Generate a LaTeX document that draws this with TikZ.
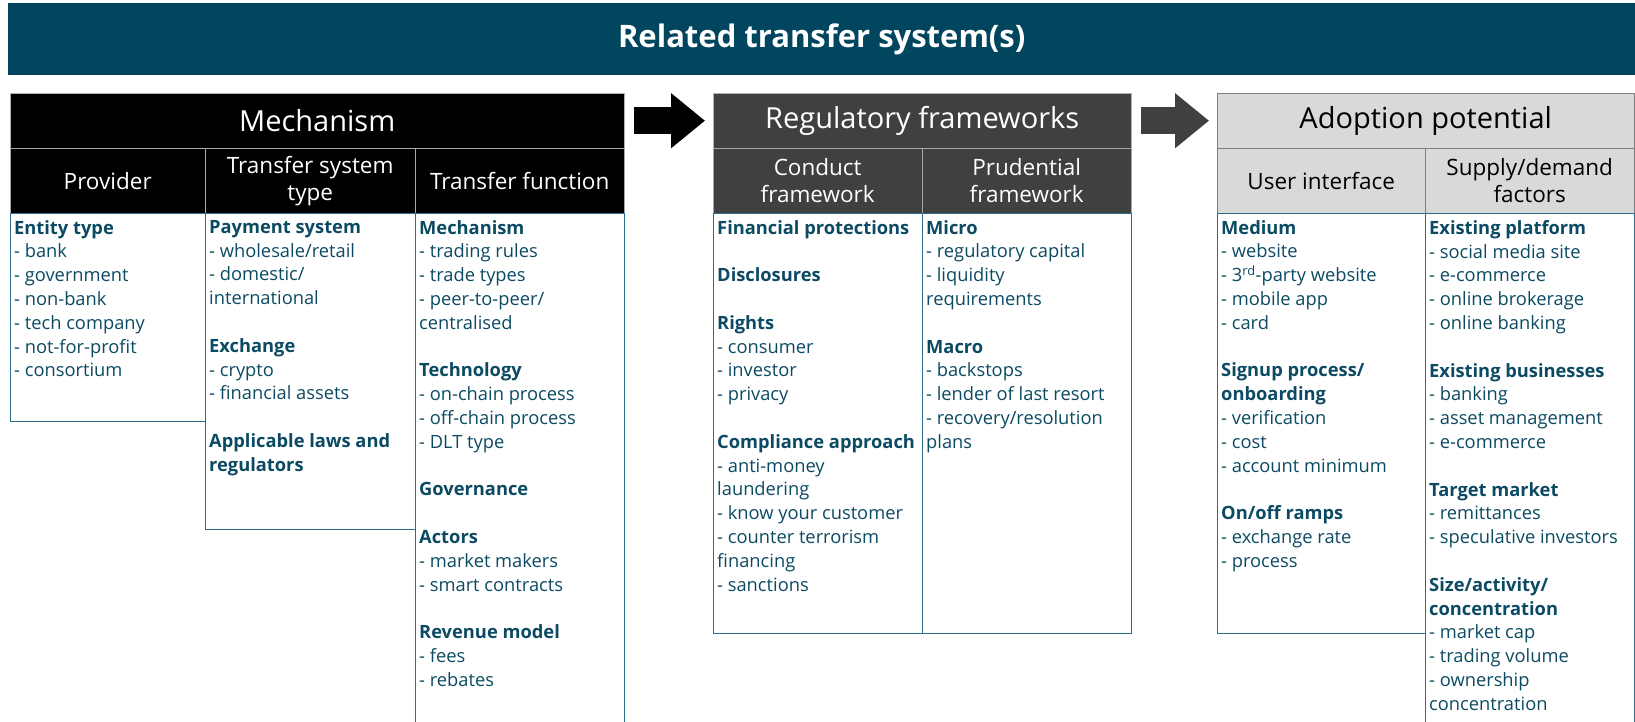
\documentclass[tikz,border=0pt]{standalone}
\usepackage{fontspec}
\setmainfont{Open Sans}
\usetikzlibrary{arrows.meta,positioning}
\definecolor{titlebg}{HTML}{02455E}
\definecolor{txt}{HTML}{0B4A62}
\definecolor{cborder}{HTML}{2A6E8C}
\definecolor{reggray}{HTML}{404040}
\definecolor{adgray}{HTML}{D9D9D9}
\newcommand{\hd}[1]{{\bfseries #1}}
\newcommand{\skipline}{\\[23.8pt]}

\begin{document}
\begin{tikzpicture}[x=1pt,y=-1pt,% pixel grid, y runs down
	every node/.style={align=center, inner sep=0pt},
	headbox/.style={rectangle, minimum height=55pt, anchor=north west,
		text=white, font=\fontsize{29}{33}\selectfont},
	subbox/.style={rectangle, minimum height=65pt, anchor=north west,
		text=white, font=\fontsize{22.5}{27}\selectfont},
	cbox/.style={rectangle, draw=cborder, line width=1.2pt, anchor=north west},
	ctext/.style={align=left, anchor=north west, text=txt,
		font=\fontsize{18.3}{23.8}\selectfont},
	blockarrow/.style={line width=27pt, -{Triangle[length=34pt,width=53pt]},
		shorten <=10pt, shorten >=8pt}
	]
	\useasboundingbox (0,0) rectangle (1635,721);
	\clip (0,0) rectangle (1635,721);

	\node[rectangle, fill=titlebg, anchor=north west, minimum width=1627pt, minimum height=72pt,
		text=white, font=\fontsize{31}{36}\selectfont\bfseries] (title) at (8,3) {Related transfer system(s)};

	% Mechanism
	\node[headbox, fill=black, draw=gray!60, minimum width=614pt] (mech) at (10,93) {Mechanism};
	\node[subbox, fill=black, draw=gray!70, minimum width=195pt] (prov) at (10,148) {Provider};
	\node[subbox, fill=black, draw=gray!70, minimum width=210pt] (tst) at (205,148) {Transfer system\\type};
	\node[subbox, fill=black, draw=gray!70, minimum width=209pt] (tfun) at (415,148) {Transfer function};

	% Regulatory frameworks
	\node[headbox, fill=reggray, draw=gray!60, minimum width=418pt] (reg) at (713,93) {Regulatory frameworks};
	\node[subbox, fill=reggray, draw=gray!70, minimum width=209pt] (cond) at (713,148) {Conduct\\framework};
	\node[subbox, fill=reggray, draw=gray!70, minimum width=209pt] (prud) at (922,148) {Prudential\\framework};

	% Adoption potential
	\node[headbox, fill=adgray, draw=gray, minimum width=417pt, text=black] (adopt) at (1217,93) {Adoption potential};
	\node[subbox, fill=adgray, draw=gray, minimum width=208pt, text=black] (ui) at (1217,148) {User interface};
	\node[subbox, fill=adgray, draw=gray, minimum width=209pt, text=black] (sd) at (1425,148) {Supply/demand\\factors};

	\draw[blockarrow, black] (mech.east) -- (reg.west);
	\draw[blockarrow, reggray] (reg.east) -- (adopt.west);

	% content boxes
	\node[cbox, minimum width=195pt, minimum height=208pt] (provbox) at (10,213) {};
	\node[cbox, minimum width=210pt, minimum height=316pt] (tstbox) at (205,213) {};
	\node[cbox, minimum width=209pt, minimum height=540pt] (tfunbox) at (415,213) {};
	\node[cbox, minimum width=209pt, minimum height=420pt] (condbox) at (713,213) {};
	\node[cbox, minimum width=209pt, minimum height=420pt] (prudbox) at (922,213) {};
	\node[cbox, minimum width=208pt, minimum height=420pt] (uibox) at (1217,213) {};
	\node[cbox, minimum width=209pt, minimum height=540pt] (sdbox) at (1425,213) {};

	\node[ctext, below right=7pt and 4pt of provbox.north west] (provtxt)
		{\hd{Entity type}\\- bank\\- government\\- non-bank\\- tech company\\- not-for-profit\\- consortium};
	\node[ctext, below right=7pt and 4pt of tstbox.north west] (tsttxt)
		{\hd{Payment system}\\- wholesale/retail\\- domestic/\\international\skipline
		\hd{Exchange}\\- crypto\\- financial assets\skipline
		\hd{Applicable laws and}\\\hd{regulators}};
	\node[ctext, below right=7pt and 4pt of tfunbox.north west] (tfuntxt)
		{\hd{Mechanism}\\- trading rules\\- trade types\\- peer-to-peer/\\centralised\skipline
		\hd{Technology}\\- on-chain process\\- off-chain process\\- DLT type\skipline
		\hd{Governance}\skipline
		\hd{Actors}\\- market makers\\- smart contracts\skipline
		\hd{Revenue model}\\- fees\\- rebates};
	\node[ctext, below right=7pt and 4pt of condbox.north west] (condtxt)
		{\hd{Financial protections}\skipline
		\hd{Disclosures}\skipline
		\hd{Rights}\\- consumer\\- investor\\- privacy\skipline
		\hd{Compliance approach}\\- anti-money\\laundering\\- know your customer\\- counter terrorism\\financing\\- sanctions};
	\node[ctext, below right=7pt and 4pt of prudbox.north west] (prudtxt)
		{\hd{Micro}\\- regulatory capital\\- liquidity\\requirements\skipline
		\hd{Macro}\\- backstops\\- lender of last resort\\- recovery/resolution\\plans};
	\node[ctext, below right=7pt and 4pt of uibox.north west] (uitxt)
		{\hd{Medium}\\- website\\- 3\textsuperscript{rd}-party website\\- mobile app\\- card\skipline
		\hd{Signup process/}\\\hd{onboarding}\\- verification\\- cost\\- account minimum\skipline
		\hd{On/off ramps}\\- exchange rate\\- process};
	\node[ctext, below right=7pt and 4pt of sdbox.north west] (sdtxt)
		{\hd{Existing platform}\\- social media site\\- e-commerce\\- online brokerage\\- online banking\skipline
		\hd{Existing businesses}\\- banking\\- asset management\\- e-commerce\skipline
		\hd{Target market}\\- remittances\\- speculative investors\skipline
		\hd{Size/activity/}\\\hd{concentration}\\- market cap\\- trading volume\\- ownership\\concentration};
\end{tikzpicture}
\end{document}
